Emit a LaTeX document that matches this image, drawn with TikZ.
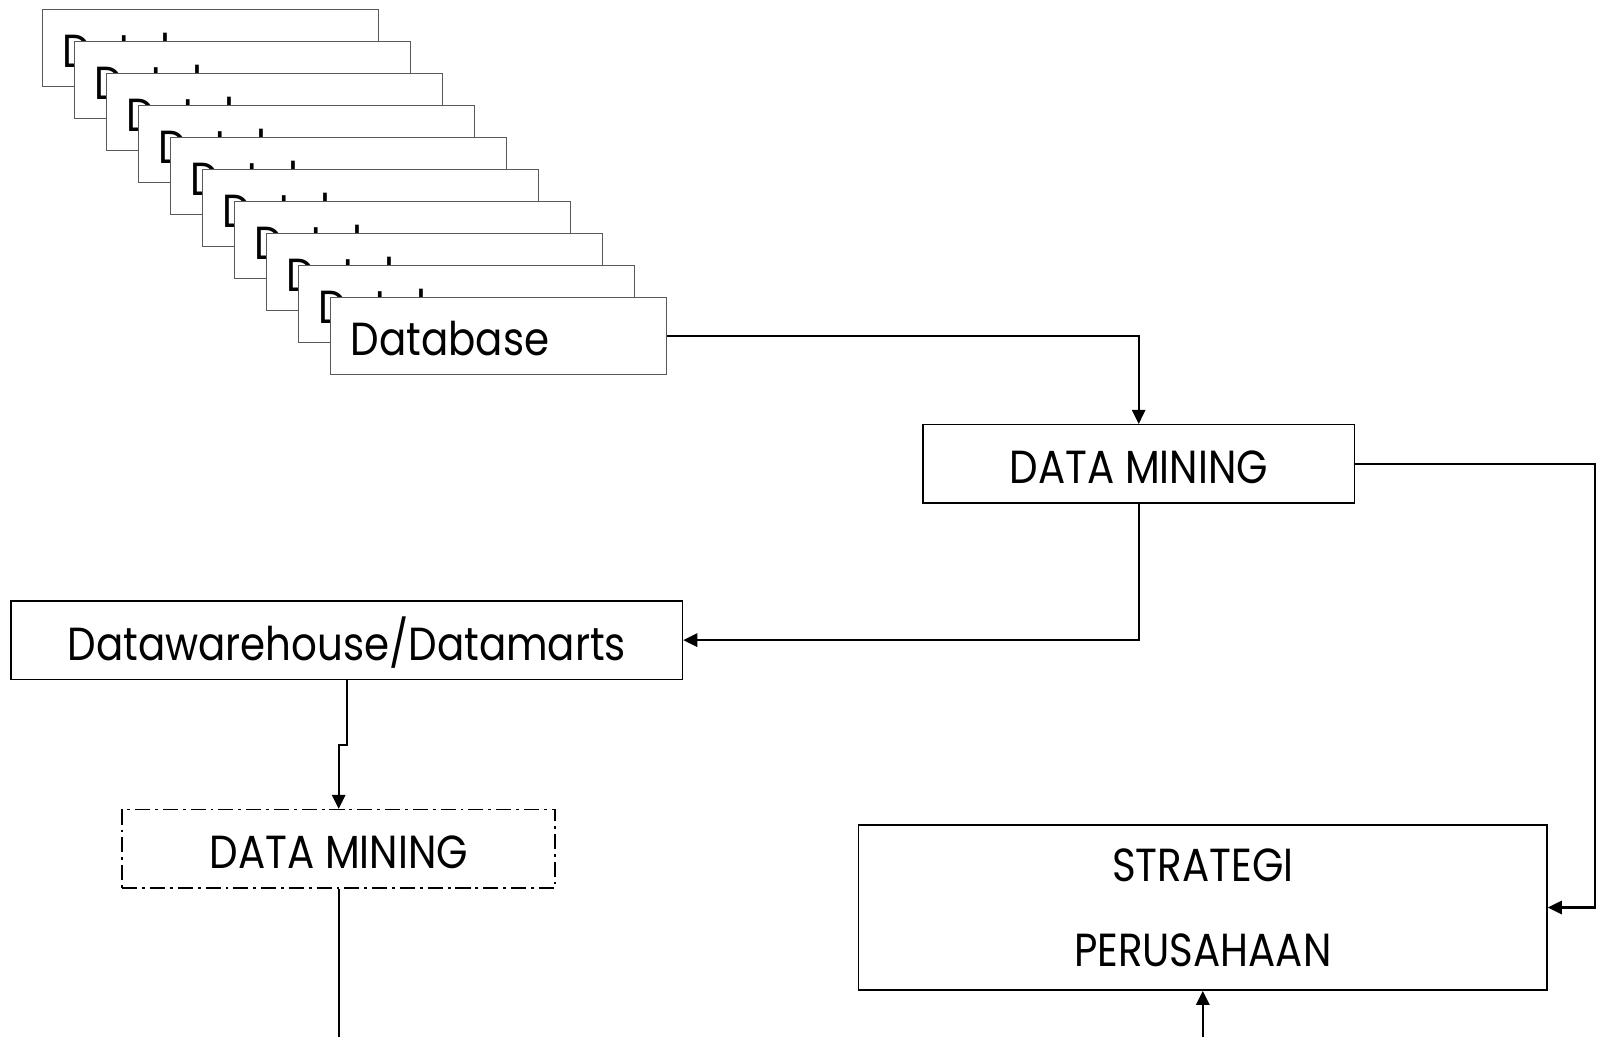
\documentclass[tikz,border=0pt]{standalone}
\usepackage{fontspec}
\setmainfont{Poppins}[FakeStretch=0.87]
\usepackage{tikz}
\usetikzlibrary{arrows.meta}

\begin{document}
\begin{tikzpicture}[
    every node/.style={font=\fontsize{13.2}{16}\selectfont},
    dbbox/.style={rectangle, draw=black!65, line width=0.35pt, fill=white,
      minimum height=0.774cm, inner ysep=0pt, inner xsep=0.2cm,
      text width=2.96cm, align=left, text height=11.4pt, text depth=0pt},
    mainbox/.style={rectangle, draw=black, line width=0.45pt, fill=white,
      minimum height=0.784cm, inner sep=0pt},
    onerow/.style={text height=11.4pt, text depth=0pt},
    link/.style={-{Triangle[width=3.8pt,length=4pt]}, line width=0.6pt}]
    \useasboundingbox (0,0) rectangle (15.97,-10.37);
			% Nodes
			\node[dbbox] (db1) at (2.108,-0.479) {Database};
			\node[dbbox] (db2) at (2.428,-0.799) {Database};
			\node[dbbox] (db3) at (2.748,-1.119) {Database};
			\node[dbbox] (db4) at (3.068,-1.439) {Database};
			\node[dbbox] (db5) at (3.388,-1.759) {Database};
			\node[dbbox] (db6) at (3.708,-2.079) {Database};
			\node[dbbox] (db7) at (4.028,-2.399) {Database};
			\node[dbbox] (db8) at (4.348,-2.719) {Database};
			\node[dbbox] (db9) at (4.668,-3.039) {Database};
			\node[dbbox] (db10) at (4.988,-3.359) {Database};
			\node[mainbox, onerow, minimum width=4.318cm] (dm1) at (11.387,-4.639) {DATA MINING};
			\node[mainbox, onerow, minimum width=6.712cm] (dw) at (3.468,-6.401) {Datawarehouse/Datamarts};
			\node[mainbox, onerow, minimum width=4.329cm, dash pattern=on 4.3pt off 1.4pt on 0.8pt off 1.4pt] (dm2) at (3.387,-8.489) {DATA MINING};
			\node[mainbox, minimum width=6.885cm, minimum height=1.65cm, align=center,
			  font=\fontsize{13.2}{24.2}\selectfont] (strat) at (12.028,-9.075) {STRATEGI\\PERUSAHAAN};
			\coordinate (dmout) at (3.387,-10.37);
			\coordinate (stratin) at (12.028,-10.37);
			
			% Edges
			\draw[link] (db10.east) -| (dm1.north);
			\draw[link] (dm1.east) -- ++(2.394,0) |- (strat.east);
			\draw[link] (dm1.south) |- (dw.east);
			\draw[link] (dw.south) -- ++(0,-0.652) -| (dm2.north);
			\draw[line width=0.6pt] (dm2.south) -- (dmout);
			\draw[link] (stratin) -- (strat.south);
		\end{tikzpicture}
\end{document}
